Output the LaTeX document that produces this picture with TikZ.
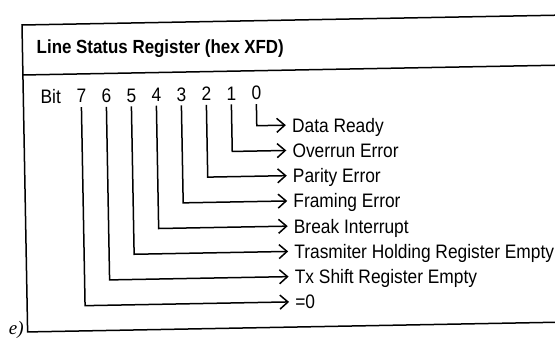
\documentclass[tikz,border=0pt]{standalone}
\usepackage{fontspec}
\setmainfont{Liberation Sans}[FakeStretch=0.89]
\newfontfamily\panelfont{Liberation Serif}
\usepackage{tikz}
\usetikzlibrary{arrows.meta}

\begin{document}
\begin{tikzpicture}[x=1pt, y=-1pt,
  frame/.style={line width=1.5pt, draw=black},
  titletxt/.style={anchor=base west, inner sep=0pt,
                   font=\fontsize{19}{21}\selectfont\bfseries},
  bitnum/.style={anchor=base, inner sep=4pt,
                 font=\fontsize{19.5}{22}\selectfont},
  lbl/.style={anchor=west, inner xsep=6pt, inner ysep=0pt,
              text height=14pt, text depth=0pt,
              font=\fontsize{19.5}{22}\selectfont},
  arr/.style={-{Straight Barb[length=8pt, width=14pt, line width=1.5pt]},
              line width=1.5pt, draw=black}
]
\useasboundingbox (0,0) rectangle (555,339);
\clip (0,0) rectangle (555,339);

\begin{scope}[rotate around={1.05:(22,25)}]

% Frame and header
\draw[frame] (620,25) -- (22,25) -- (22,332) -- (620,332);
\draw[frame] (22,75) -- (620,75);
\node[titletxt] (title) at (36,54) {Line Status Register (hex XFD)};

% Bit numbers
\node[anchor=base west, inner sep=0pt, font=\fontsize{19.5}{22}\selectfont]
    (bit) at (39,104) {Bit};
\node[bitnum] (b7) at ( 80,104) {7};
\node[bitnum] (b6) at (105,104) {6};
\node[bitnum] (b5) at (130,104) {5};
\node[bitnum] (b4) at (155,104) {4};
\node[bitnum] (b3) at (180,104) {3};
\node[bitnum] (b2) at (205,104) {2};
\node[bitnum] (b1) at (230,104) {1};
\node[bitnum] (b0) at (255,104) {0};

% Meanings
\node[lbl] (l0) at (284,130.0) {Data Ready};
\node[lbl] (l1) at (284,155.3) {Overrun Error};
\node[lbl] (l2) at (284,180.5) {Parity Error};
\node[lbl] (l3) at (284,205.8) {Framing Error};
\node[lbl] (l4) at (284,231.0) {Break Interrupt};
\node[lbl] (l5) at (284,256.3) {Trasmiter Holding Register Empty};
\node[lbl] (l6) at (284,281.5) {Tx Shift Register Empty};
\node[lbl] (l7) at (284,306.8) {=0};

% Connectors
\draw[arr] (b0.south) |- (l0.west);
\draw[arr] (b1.south) |- (l1.west);
\draw[arr] (b2.south) |- (l2.west);
\draw[arr] (b3.south) |- (l3.west);
\draw[arr] (b4.south) |- (l4.west);
\draw[arr] (b5.south) |- (l5.west);
\draw[arr] (b6.south) |- (l6.west);
\draw[arr] (b7.south) |- (l7.west);

% Panel letter
\node[anchor=base west, inner sep=0pt, font=\fontsize{19}{22}\panelfont\itshape]
    (panel) at (3,334.5) {e)};

\end{scope}
\end{tikzpicture}
\end{document}
